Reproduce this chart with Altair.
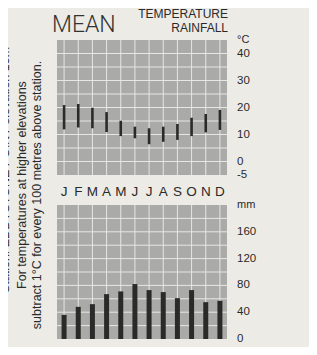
import altair as alt
import pandas as pd

# ---- data ----
months = ["J", "F", "M", "A", "M", "J", "J", "A", "S", "O", "N", "D"]
month_idx = list(range(1, 13))
temp_max = [20.9, 21.3, 19.9, 18.3, 15.1, 12.9, 12.3, 12.9, 13.9, 16.2, 17.6, 19.1]
temp_min = [11.9, 12.6, 12.3, 10.9, 9.4, 8.6, 6.4, 7.3, 8.0, 9.4, 10.8, 11.7]
rainfall = [36, 48, 52, 67, 71, 82, 73, 70, 61, 73, 55, 57]
temp_ticks = [40, 30, 20, 10, 0, -5]
temp_tick_labels = ["40", "30", "20", "10", "0", "-5"]
rain_ticks = [160, 120, 80, 40, 0]
rain_tick_labels = ["160", "120", "80", "40", "0"]
temp_grid = [0, 5, 10, 15, 20, 25, 30, 35, 40]
rain_grid = [20, 40, 60, 80, 100, 120, 140, 160, 180]
notes = [
    "Station: EDDYSTONE POINT    elevation 15m",
    "For temperatures at higher elevations",
    "subtract 1°C for every 100 metres above station.",
]

# ---- style ----
PAPER = "#ecebe6"
PANEL = "#aaaaa8"
GRID = "#e6e6e4"
INK = "#2a2a2a"
FONT = "Liberation Sans, Arial, sans-serif"
TITLE_FONT = "Roboto, Liberation Sans, sans-serif"

X = alt.Scale(domain=[0.5, 12.5], range=[44, 224], nice=False, zero=False)
TY = alt.Scale(domain=[-5, 45], range=[167, 32], nice=False, zero=False)
RY = alt.Scale(domain=[0, 200], range=[331, 197], nice=False, zero=False)

df = pd.DataFrame({"m": month_idx, "label": months, "tmax": temp_max,
                   "tmin": temp_min, "rain": rainfall})
one = pd.DataFrame({"a": [0]})

xm = alt.X("m:Q", scale=X, axis=None)


def panel_bg(ys, lo, hi):
    return alt.Chart(one).mark_rect(color=PANEL).encode(
        x=alt.XDatum(0.5, scale=X, axis=None), x2=alt.X2Datum(12.5),
        y=alt.YDatum(lo, scale=ys, axis=None), y2=alt.Y2Datum(hi))


def hgrid(vals, ys):
    return alt.Chart(pd.DataFrame({"v": vals})).mark_rule(color=GRID, strokeWidth=1).encode(
        y=alt.Y("v:Q", scale=ys, axis=None),
        x=alt.XDatum(0.5, scale=X, axis=None), x2=alt.X2Datum(12.5))


def vgrid(ys, lo, hi):
    return alt.Chart(df).mark_rule(color=GRID, strokeWidth=1).encode(
        x=xm, y=alt.YDatum(lo, scale=ys, axis=None), y2=alt.Y2Datum(hi))


def tick_labels(vals, labels, ys):
    return alt.Chart(pd.DataFrame({"v": vals, "t": labels})).mark_text(
        font=FONT, fontSize=11.5, color=INK, align="left", baseline="middle").encode(
        x=alt.value(229), y=alt.Y("v:Q", scale=ys, axis=None), text="t:N")


def unit_label(txt, val, ys):
    return alt.Chart(pd.DataFrame({"t": [txt]})).mark_text(
        font=FONT, fontSize=11, color=INK, align="left", baseline="middle").encode(
        x=alt.value(229), y=alt.YDatum(val, scale=ys, axis=None), text="t:N")


def plain_text(txt, px, py, size, align, font=FONT, weight="normal", color=INK):
    return alt.Chart(pd.DataFrame({"t": [txt]})).mark_text(
        font=font, fontSize=size, fontWeight=weight, color=color, align=align,
        baseline="alphabetic").encode(x=alt.value(px), y=alt.value(py), text="t:N")


temp_bars = alt.Chart(df).mark_rule(color=INK, strokeWidth=2.6, strokeCap="butt").encode(
    x=xm, y=alt.Y("tmin:Q", scale=TY, axis=None), y2="tmax:Q")

rain_bars = alt.Chart(df).mark_bar(color=INK, size=5).encode(
    x=xm, y=alt.Y("rain:Q", scale=RY, axis=None), y2=alt.Y2Datum(0))

month_text = alt.Chart(df).mark_text(font=FONT, fontSize=13.5, color=INK,
                                     baseline="middle").encode(
    x=xm, y=alt.value(184), text="label:N")

note_df = pd.DataFrame({"t": notes, "px": [-3, 14, 29], "py": [162, 177, 187]})
note_layers = [
    alt.Chart(note_df.iloc[[i]]).mark_text(
        font=FONT, fontSize=12.5, color=INK, angle=270, align="center",
        baseline="middle").encode(
        x=alt.value(float(note_df.px[i])), y=alt.value(float(note_df.py[i])), text="t:N")
    for i in range(len(notes))
]

chart = alt.layer(
    panel_bg(TY, -5, 45), hgrid(temp_grid, TY), vgrid(TY, -5, 45), temp_bars,
    panel_bg(RY, 0, 200), hgrid(rain_grid, RY), vgrid(RY, 0, 200), rain_bars,
    month_text,
    tick_labels(temp_ticks, temp_tick_labels, TY),
    tick_labels(rain_ticks, rain_tick_labels, RY),
    unit_label("°C", 45, TY), unit_label("mm", 200, RY),
    plain_text("MEAN", 44, 24, 23, "left", font=TITLE_FONT, weight=300, color="#333333"),
    plain_text("TEMPERATURE", 220, 10, 12, "right"),
    plain_text("RAINFALL", 220, 24, 12, "right"),
    *note_layers,
).resolve_scale(y="independent").properties(
    width=301, height=339, padding=0,
    autosize=alt.AutoSizeParams(type="none"), background=PAPER,
).configure_view(stroke=None)

chart.save("out.html", embed_options={"renderer": "svg", "actions": False})
